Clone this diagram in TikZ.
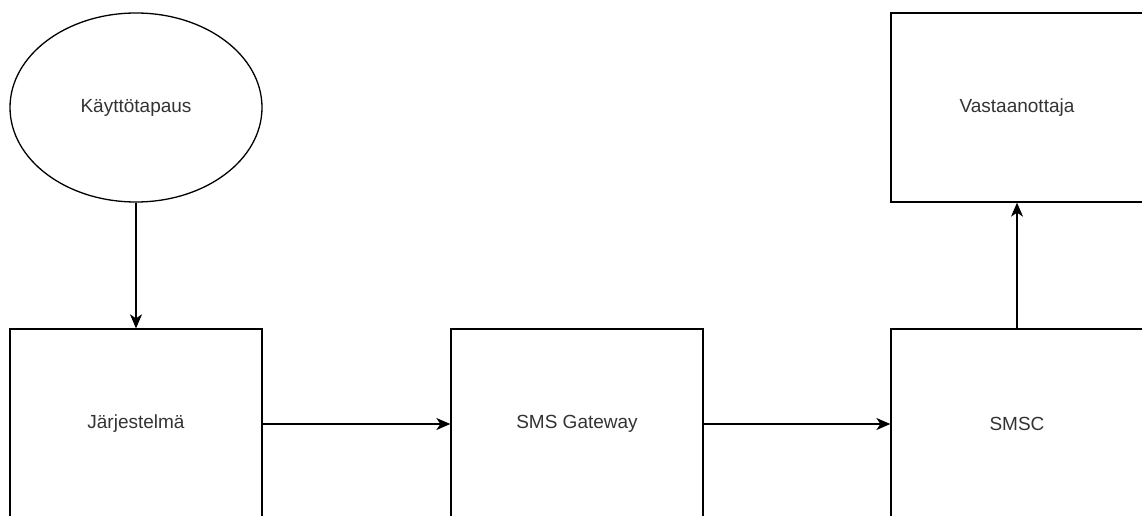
\documentclass[tikz,border=0pt]{standalone}
\usepackage{fontspec}
\setmainfont{Liberation Sans}
\usetikzlibrary{shapes.geometric,arrows.meta}
\definecolor{txt}{HTML}{333333}
\begin{document}
\begin{tikzpicture}[x=1pt,y=-1pt,
  box/.style={draw=black,line width=1.3pt,rectangle,minimum width=252pt,minimum height=190pt,inner sep=0pt,font=\fontsize{19}{22}\selectfont,text=txt},
  oval/.style={draw=black,line width=1.3pt,ellipse,minimum width=252pt,minimum height=189pt,inner sep=0pt,font=\fontsize{19}{22}\selectfont,text=txt},
  conn/.style={draw=black,line width=1.3pt,-{Stealth[length=14pt,width=12pt,inset=4pt]}}]
\useasboundingbox (0,0) rectangle (1142,516);
\node[oval] (uc) at (136,107.5) {Käyttötapaus};
\node[box] (sys) at (136,424) {Järjestelmä};
\node[box] (gw) at (577,424) {SMS Gateway};
\node[box] (smsc) at (1017,424) {SMSC};
\node[box,minimum height=189pt] (rcv) at (1017,107.5) {Vastaanottaja};
\draw[conn] (uc.south) -- (sys.north);
\draw[conn] (sys.east) -- (gw.west);
\draw[conn] (gw.east) -- (smsc.west);
\draw[conn] (smsc.north) -- (rcv.south);
\end{tikzpicture}
\end{document}
